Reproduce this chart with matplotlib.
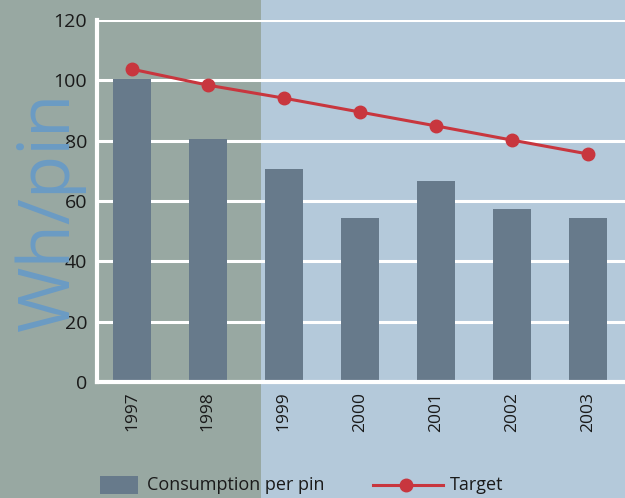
import matplotlib
matplotlib.use("Agg")
import matplotlib.pyplot as plt
from matplotlib.patches import Rectangle
from matplotlib.lines import Line2D

years = ["1997", "1998", "1999", "2000", "2001", "2002", "2003"]
consumption = [100.4, 80.5, 70.6, 54.4, 66.6, 57.3, 54.4]
target = [103.7, 98.4, 94.1, 89.5, 84.9, 80.2, 75.6]
yticks = [0, 20, 40, 60, 80, 100, 120]
legend_labels = ["Consumption per pin", "Target"]

W, H = 625, 498
fig = plt.figure(figsize=(W / 100, H / 100), dpi=100)
plt.rcParams['font.family'] = ['Open Sans', 'DejaVu Sans']

left_bg = "#98a8a2"
right_bg = "#b4c9da"
bar_c = "#677a8b"
red = "#c8363e"

split = 261 / W
fig.patches.append(Rectangle((0, 0), split, 1, transform=fig.transFigure,
                             facecolor=left_bg, edgecolor='none', zorder=-10))
fig.patches.append(Rectangle((split, 0), 1 - split, 1, transform=fig.transFigure,
                             facecolor=right_bg, edgecolor='none', zorder=-10))

ax = fig.add_axes([97 / W, 1 - 382 / H, (W - 97) / W, (382 - 20) / H])
ax.patch.set_alpha(0)
x = list(range(len(years)))
ax.bar(x, consumption, width=0.5, color=bar_c, zorder=3)
ax.plot(x, target, color=red, lw=2.2, marker='o', ms=9, zorder=4)

ax.set_xlim(-0.46, 6.49)
ax.set_ylim(0, 120)
ax.set_yticks(yticks)
ax.set_yticklabels([str(v) for v in yticks], fontsize=14, color='#1a1a1a')
ax.set_xticks(x)
ax.set_xticklabels(years, rotation=90, fontsize=12.5, color='#1a1a1a')
ax.tick_params(length=0, pad=7)
ax.tick_params(axis='y', pad=7)
ax.grid(axis='y', color='white', lw=2.2, zorder=1)
for s in ['top', 'right']:
    ax.spines[s].set_visible(False)
for s in ['left', 'bottom']:
    ax.spines[s].set_color('white')
    ax.spines[s].set_linewidth(3)
    ax.spines[s].set_zorder(5)

fig.text(50 / W, 1 - 211 / H, "Wh/pin", rotation=90, fontsize=51,
         fontweight='normal', color="#6b9bc4", ha='center', va='center',
         zorder=0)

# legend drawn manually in figure pixel positions
ly = 1 - 485 / H
fig.patches.append(Rectangle((100 / W, 1 - 494 / H), 38 / W, 18 / H,
                             transform=fig.transFigure, facecolor=bar_c,
                             edgecolor='none'))
fig.text(147 / W, ly, legend_labels[0], fontsize=13, color='#1a1a1a',
         ha='left', va='center')
fig.add_artist(Line2D([373 / W, 443 / W], [ly, ly], transform=fig.transFigure,
                      color=red, lw=2.2))
fig.add_artist(Line2D([406 / W], [ly], transform=fig.transFigure,
                      color=red, marker='o', ms=9, lw=0))
fig.text(450 / W, ly, legend_labels[1], fontsize=13, color='#1a1a1a',
         ha='left', va='center')

fig.savefig("out.png", dpi=100)
